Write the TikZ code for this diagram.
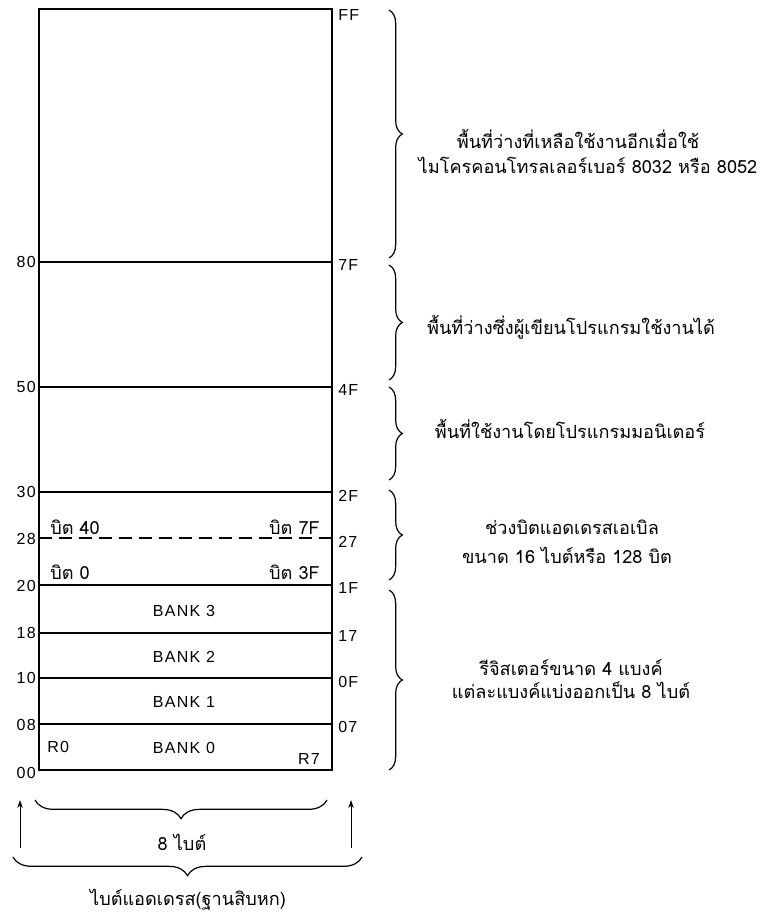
\documentclass[tikz,border=0pt]{standalone}
\usepackage{fontspec}
\setmainfont{Liberation Sans}
\newfontfamily\labfont[LetterSpace=8]{Liberation Sans}
\newfontfamily\thaifont[Script=Thai]{Loma}
\usetikzlibrary{decorations.pathreplacing,arrows.meta}
\begin{document}
\begin{tikzpicture}[x=0.75pt,y=-0.75pt,
  lab/.style={font=\labfont\fontsize{12}{14}\selectfont, inner sep=0pt},
  lefl/.style={lab, anchor=east},
  rigl/.style={lab, anchor=west},
  thai/.style={font=\thaifont\fontsize{13.6}{16}\selectfont, inner sep=0pt},
  memline/.style={line width=1.2pt},
  rbrace/.style={decorate, decoration={brace, amplitude=10pt}, line width=0.9pt},
  bbrace/.style={decorate, decoration={brace, amplitude=14pt}, line width=0.9pt},
  uparrow/.style={-{Stealth[length=6pt,width=4pt]}, line width=0.6pt}
]
\useasboundingbox (0,0) rectangle (773,917);
% memory box
\draw[memline] (39,9) rectangle (332,770);
\foreach \y in {262,387,492,585,633,678,724} \draw[memline] (39,\y) -- (332,\y);
\draw[memline, dash pattern=on 10pt off 5pt] (39,538) -- (332,538);
% left addresses
\node[lefl] (a80) at (36,262) {80};
\node[lefl] (a50) at (36,387) {50};
\node[lefl] (a30) at (36,492) {30};
\node[lefl] (a28) at (36,539) {28};
\node[lefl] (a20) at (36,586) {20};
\node[lefl] (a18) at (36,633) {18};
\node[lefl] (a10) at (36,678) {10};
\node[lefl] (a08) at (36,725) {08};
\node[lefl] (a00) at (36,773) {00};
% right addresses
\node[rigl] (aFF) at (338,15) {FF};
\node[rigl] (a7F) at (338,265) {7F};
\node[rigl] (a4F) at (338,390) {4F};
\node[rigl] (a2F) at (338,496) {2F};
\node[rigl] (a27) at (338,542) {27};
\node[rigl] (a1F) at (338,588) {1F};
\node[rigl] (a17) at (338,636) {17};
\node[rigl] (a0F) at (338,682) {0F};
\node[rigl] (a07) at (338,727) {07};
% inner labels
\node[thai, anchor=west] (b40) at (50,527) {บิต 40};
\node[thai, anchor=east] (b7F) at (320,527) {บิต 7F};
\node[thai, anchor=west] (b0) at (50,572) {บิต 0};
\node[thai, anchor=east] (b3F) at (320,572) {บิต 3F};
\node[lab] (bank3) at (184,611) {BANK 3};
\node[lab] (bank2) at (184,657) {BANK 2};
\node[lab] (bank1) at (184,702) {BANK 1};
\node[lab] (bank0) at (184,748) {BANK 0};
\node[lab, anchor=west] (r0) at (47,747) {R0};
\node[lab, anchor=east] (r7) at (320,759) {R7};
% right braces
\coordinate (br1s) at (389,10);  \coordinate (br1e) at (389,258);
\coordinate (br2s) at (389,265); \coordinate (br2e) at (389,380);
\coordinate (br3s) at (389,387); \coordinate (br3e) at (389,480);
\coordinate (br4s) at (389,490); \coordinate (br4e) at (389,580);
\coordinate (br5s) at (389,590); \coordinate (br5e) at (389,770);
\draw[rbrace] (br1s) -- (br1e);
\draw[rbrace] (br2s) -- (br2e);
\draw[rbrace] (br3s) -- (br3e);
\draw[rbrace] (br4s) -- (br4e);
\draw[rbrace] (br5s) -- (br5e);
% descriptions
\node[thai] (t1a) at (578,139) {พื้นที่ว่างที่เหลือใช้งานอีกเมื่อใช้};
\node[thai] (t1b) at (588,165) {ไมโครคอนโทรลเลอร์เบอร์ 8032 หรือ 8052};
\node[thai] (t2) at (571,327) {พื้นที่ว่างซึ่งผู้เขียนโปรแกรมใช้งานได้};
\node[thai] (t3) at (570,429) {พื้นที่ใช้งานโดยโปรแกรมมอนิเตอร์};
\node[thai] (t4a) at (572,527) {ช่วงบิตแอดเดรสเอเบิล};
\node[thai] (t4b) at (567,555) {ขนาด 16 ไบต์หรือ 128 บิต};
\node[thai] (t5a) at (571,668) {รีจิสเตอร์ขนาด 4 แบงค์};
\node[thai] (t5b) at (571,690) {แต่ละแบงค์แบ่งออกเป็น 8 ไบต์};
% bottom
\coordinate (la1) at (20,848); \coordinate (la2) at (20,800);
\coordinate (ra1) at (351,848); \coordinate (ra2) at (351,800);
\draw[uparrow] (la1) -- (la2);
\draw[uparrow] (ra1) -- (ra2);
\coordinate (bb1s) at (327,800); \coordinate (bb1e) at (35,800);
\coordinate (bb2s) at (362,857); \coordinate (bb2e) at (13,857);
\draw[bbrace] (bb1s) -- (bb1e);
\draw[bbrace] (bb2s) -- (bb2e);
\node[thai] (w8) at (182,842) {8 ไบต์};
\node[thai] (wadr) at (188,900) {ไบต์แอดเดรส(ฐานสิบหก)};
\end{tikzpicture}
\end{document}
